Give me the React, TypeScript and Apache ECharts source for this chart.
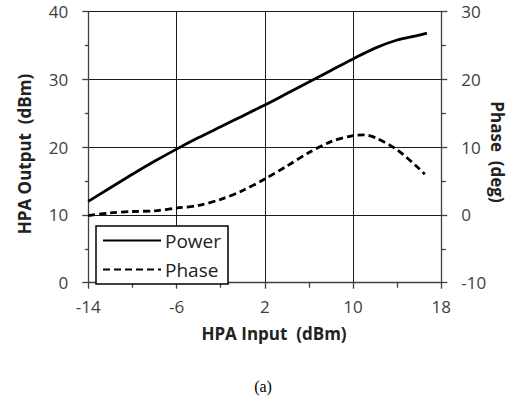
import React, { useEffect, useRef } from "react";
import * as echarts from "echarts";

// ---- data ----
const X_MIN = -14;
const X_MAX = 18;
const xTickLabels = ["-14", "-6", "2", "10", "18"];

const powerInput = [-14, -12, -10, -8, -6, -4, -2, 0, 2, 4, 6, 8, 10, 12, 14, 16, 16.7];
const powerOutput = [12.0, 14.0, 16.0, 17.9, 19.7, 21.4, 23.0, 24.6, 26.2, 27.9, 29.6, 31.3, 33.0, 34.6, 35.8, 36.5, 36.8];

const phaseInput = [-14, -12, -10, -8, -6, -4, -2, 0, 2, 4, 6, 8, 10, 11, 12, 14, 16, 16.5];
const phaseDeg = [-0.1, 0.3, 0.5, 0.6, 1.0, 1.4, 2.3, 3.6, 5.3, 7.2, 9.2, 10.8, 11.7, 11.8, 11.4, 9.6, 6.8, 6.0];

const seriesNames = ["Power", "Phase"];
const xTitle = "HPA Input  (dBm)";
const yLeftTitle = "HPA Output  (dBm)";
const yRightTitle = "Phase  (deg)";
const caption = "(a)";

const FONT = "'Open Sans', 'Liberation Sans', sans-serif";

export default function App() {
  const ref = useRef<HTMLDivElement>(null);
  useEffect(() => {
    document.body.style.margin = "0";
    if (!ref.current) return;
    const chart = echarts.init(ref.current, null, { renderer: "svg" });
    const axisLineStyle = { color: "#404040", width: 1.3 };
    const tickStyle = { color: "#404040", width: 1.3 };
    const labelStyle = { color: "#404040", fontSize: 17, fontFamily: FONT };
    const option: any = {
      animation: false,
      backgroundColor: "#fff",
      grid: { left: 88.3, right: 75.7, top: 11.5, bottom: 116.3, containLabel: false },
      xAxis: {
        type: "value",
        min: 0,
        max: X_MAX - X_MIN,
        interval: 8,
        axisLine: { show: true, onZero: false, lineStyle: axisLineStyle },
        axisTick: { show: true, inside: false, length: 6, lineStyle: tickStyle },
        minorTick: { show: true, splitNumber: 2, length: 5, lineStyle: tickStyle },
        splitLine: { show: true, lineStyle: { color: "#1a1a1a", width: 1 } },
        axisLabel: {
          ...labelStyle,
          margin: 15,
          formatter: (v: number) => {
            const idx = Math.round(v / 8);
            return xTickLabels[idx] ?? String(v + X_MIN);
          },
        },
      },
      yAxis: [
        {
          type: "value",
          min: 0,
          max: 40,
          interval: 10,
          position: "left",
          axisLine: { show: true, lineStyle: axisLineStyle },
          axisTick: { show: true, inside: false, length: 6, lineStyle: tickStyle },
          minorTick: { show: true, splitNumber: 2, length: 3.5, lineStyle: tickStyle },
          splitLine: { show: true, lineStyle: { color: "#1a1a1a", width: 1 } },
          axisLabel: { ...labelStyle, margin: 20 },
        },
        {
          type: "value",
          min: -10,
          max: 30,
          interval: 10,
          position: "right",
          axisLine: { show: true, lineStyle: axisLineStyle },
          axisTick: { show: true, inside: false, length: 6, lineStyle: tickStyle },
          minorTick: { show: true, splitNumber: 2, length: 4.5, lineStyle: tickStyle },
          splitLine: { show: false },
          axisLabel: { ...labelStyle, margin: 20 },
        },
      ],
      legend: {
        show: true,
        orient: "vertical",
        left: 96,
        top: 226,
        padding: [5, 7, 5, 6],
        itemWidth: 58,
        itemHeight: 16,
        itemGap: 10,
        borderColor: "#000",
        borderWidth: 1.5,
        backgroundColor: "#fff",
        data: seriesNames,
        itemStyle: { opacity: 0 },
        textStyle: { color: "#222", fontSize: 19, fontFamily: FONT, padding: [0, 0, 0, -1] },
      },
      series: [
        {
          name: seriesNames[0],
          type: "line",
          yAxisIndex: 0,
          smooth: 0.3,
          symbol: "none",
          lineStyle: { color: "#000", width: 2.8, type: "solid" },
          itemStyle: { color: "#000" },
          data: powerInput.map((x, i) => [x - X_MIN, powerOutput[i]]),
        },
        {
          name: seriesNames[1],
          type: "line",
          yAxisIndex: 1,
          smooth: 0.3,
          symbol: "none",
          lineStyle: { color: "#000", width: 2.8, type: [7, 4] },
          itemStyle: { color: "#000" },
          data: phaseInput.map((x, i) => [x - X_MIN, phaseDeg[i]]),
        },
      ],
      graphic: [
        {
          type: "text",
          x: 274,
          y: 333,
          style: {
            text: xTitle,
            fill: "#222",
            font: `bold 17px ${FONT}`,
            align: "center",
            verticalAlign: "middle",
          },
        },
        {
          type: "text",
          x: 24,
          y: 154,
          rotation: Math.PI / 2,
          style: {
            text: yLeftTitle,
            fill: "#222",
            font: `bold 17px ${FONT}`,
            align: "center",
            verticalAlign: "middle",
          },
        },
        {
          type: "text",
          x: 497,
          y: 152,
          rotation: -Math.PI / 2,
          style: {
            text: yRightTitle,
            fill: "#222",
            font: `bold 17px ${FONT}`,
            align: "center",
            verticalAlign: "middle",
          },
        },
        {
          type: "text",
          x: 263,
          y: 386,
          style: {
            text: caption,
            fill: "#000",
            font: "16px 'Liberation Serif', 'Times New Roman', serif",
            align: "center",
            verticalAlign: "middle",
          },
        },
      ],
    };
    chart.setOption(option);
    return () => chart.dispose();
  }, []);
  return <div ref={ref} style={{ width: 517, height: 399 }} />;
}
